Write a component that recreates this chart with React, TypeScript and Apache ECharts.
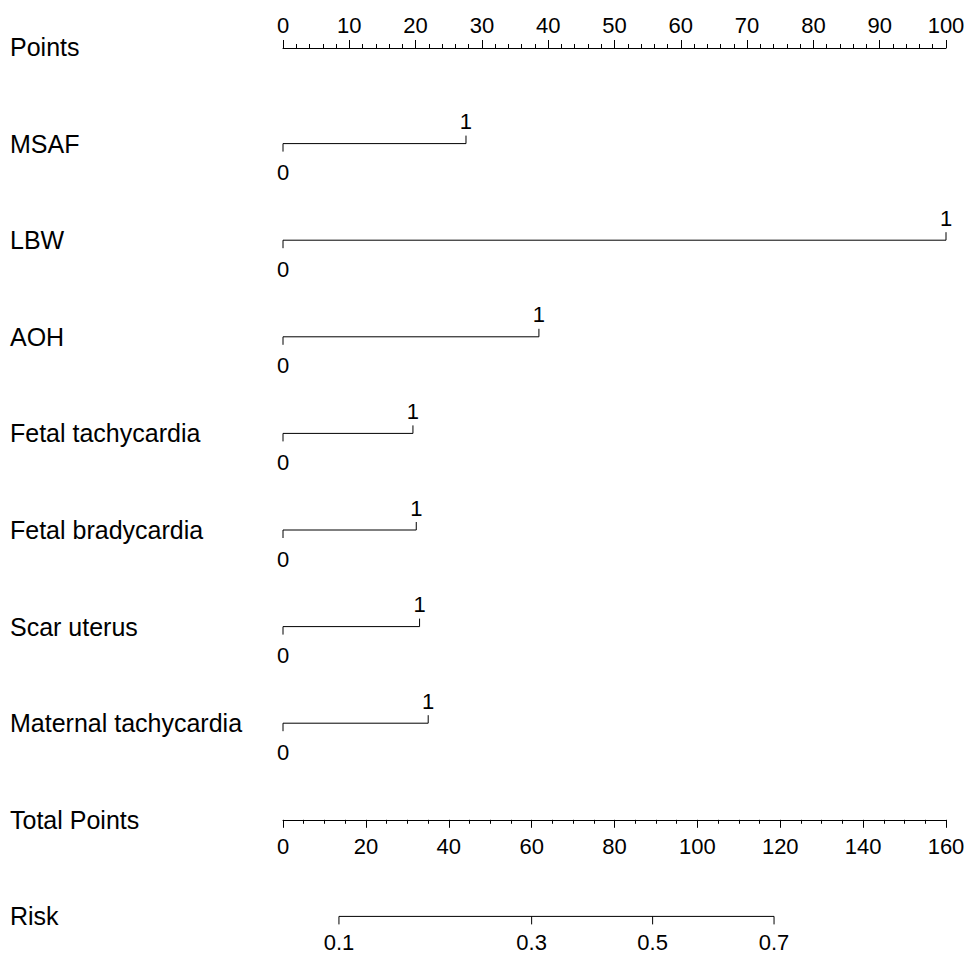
import React, { useEffect, useRef } from "react";
import * as echarts from "echarts";

// ---- data ----
const VARIABLES = [
  "MSAF",
  "LBW",
  "AOH",
  "Fetal tachycardia",
  "Fetal bradycardia",
  "Scar uterus",
  "Maternal tachycardia",
];
const POINTS_AT_LEVEL1 = [27.6, 100, 38.6, 19.6, 20.1, 20.6, 21.9];
const LEVEL_LABELS = ["0", "1"];

const POINTS_MAX = 100;
const POINTS_INTERVAL = 10;
const TOTAL_MAX = 160;
const TOTAL_INTERVAL = 20;

const RISK_LABELS = ["0.1", "0.3", "0.5", "0.7"];
const RISK_AT_TOTAL = [13.5, 60.0, 89.2, 118.5];

const ROW_NAMES = ["Points", ...VARIABLES, "Total Points", "Risk"];

// ---- layout ----
const W = 973;
const H = 956;
const LEFT = 283;
const RIGHT = 27;
const ROW_TOP = 47;
const ROW_GAP = 96.6;
const FONT = "'Liberation Sans', Arial, sans-serif";
const NAME_SIZE = 25;
const TICK_SIZE = 22;
const INK = "#000";

const rowY = (i: number) => ROW_TOP + ROW_GAP * i;

export default function App() {
  const ref = useRef<HTMLDivElement>(null);

  useEffect(() => {
    if (!ref.current) return;
    const chart = echarts.init(ref.current, null, { renderer: "svg" });

    const lastRow = ROW_NAMES.length - 1;
    const totalRow = ROW_NAMES.length - 2;

    const axisCommon = {
      type: "value" as const,
      axisLine: { show: true, lineStyle: { color: INK, width: 1 } },
      axisTick: { show: true, length: 8, lineStyle: { color: INK, width: 1 } },
      splitLine: { show: false },
      minorSplitLine: { show: false },
      axisLabel: {
        color: INK,
        fontSize: TICK_SIZE,
        fontFamily: FONT,
        showMinLabel: true,
        showMaxLabel: true,
      },
    };

    const variableData = VARIABLES.map((_, i) => [i + 1, POINTS_AT_LEVEL1[i]]);
    const riskData = RISK_AT_TOTAL.map((v, i) => [v, lastRow, i]);

    const option: any = {
      animation: false,
      backgroundColor: "#fff",
      grid: [
        { left: LEFT, right: RIGHT, top: rowY(0), height: 1 },
        { left: LEFT, right: RIGHT, top: rowY(0), height: ROW_GAP * lastRow },
        { left: LEFT, right: RIGHT, top: rowY(totalRow) - 1, height: 1 },
      ],
      xAxis: [
        {
          ...axisCommon,
          gridIndex: 0,
          position: "top",
          min: 0,
          max: POINTS_MAX,
          interval: POINTS_INTERVAL,
          minorTick: { show: true, splitNumber: 5, length: 4, lineStyle: { color: INK } },
          axisLabel: { ...axisCommon.axisLabel, margin: 11 },
        },
        { type: "value", gridIndex: 1, min: 0, max: POINTS_MAX, show: false },
        { type: "value", gridIndex: 1, min: 0, max: TOTAL_MAX, show: false },
        {
          ...axisCommon,
          gridIndex: 2,
          position: "bottom",
          min: 0,
          max: TOTAL_MAX,
          interval: TOTAL_INTERVAL,
          minorTick: { show: true, splitNumber: 4, length: 4, lineStyle: { color: INK } },
          axisLabel: { ...axisCommon.axisLabel, margin: 16 },
        },
      ],
      yAxis: [
        { type: "value", gridIndex: 0, show: false, min: 0, max: 1 },
        { type: "value", gridIndex: 1, show: false, min: 0, max: lastRow, inverse: true },
        { type: "value", gridIndex: 2, show: false, min: 0, max: 1 },
      ],
      graphic: ROW_NAMES.map((name, i) => ({
        type: "text",
        x: 10,
        y: rowY(i),
        style: {
          text: name,
          fontSize: NAME_SIZE,
          fontFamily: FONT,
          fill: INK,
          verticalAlign: "middle",
          align: "left",
        },
      })),
      series: [
        {
          type: "custom",
          xAxisIndex: 1,
          yAxisIndex: 1,
          data: variableData,
          silent: true,
          renderItem: (params: any, api: any) => {
            const row = api.value(0);
            const v = api.value(1);
            const p0 = api.coord([0, row]);
            const p1 = api.coord([v, row]);
            const ls = { stroke: INK, lineWidth: 1 };
            return {
              type: "group",
              children: [
                { type: "line", shape: { x1: p0[0], y1: p0[1], x2: p1[0], y2: p1[1] }, style: ls },
                { type: "line", shape: { x1: p0[0], y1: p0[1], x2: p0[0], y2: p0[1] + 8 }, style: ls },
                { type: "line", shape: { x1: p1[0], y1: p1[1], x2: p1[0], y2: p1[1] - 8 }, style: ls },
                {
                  type: "text",
                  x: p0[0],
                  y: p0[1] + 29,
                  style: {
                    text: LEVEL_LABELS[0],
                    fontSize: TICK_SIZE,
                    fontFamily: FONT,
                    fill: INK,
                    align: "center",
                    verticalAlign: "middle",
                  },
                },
                {
                  type: "text",
                  x: p1[0],
                  y: p1[1] - 22,
                  style: {
                    text: LEVEL_LABELS[1],
                    fontSize: TICK_SIZE,
                    fontFamily: FONT,
                    fill: INK,
                    align: "center",
                    verticalAlign: "middle",
                  },
                },
              ],
            };
          },
        },
        {
          type: "line",
          xAxisIndex: 2,
          yAxisIndex: 1,
          data: [
            [RISK_AT_TOTAL[0], lastRow],
            [RISK_AT_TOTAL[RISK_AT_TOTAL.length - 1], lastRow],
          ],
          symbol: "none",
          silent: true,
          lineStyle: { color: INK, width: 1 },
        },
        {
          type: "custom",
          xAxisIndex: 2,
          yAxisIndex: 1,
          data: riskData,
          silent: true,
          renderItem: (params: any, api: any) => {
            const p = api.coord([api.value(0), api.value(1)]);
            const idx = api.value(2);
            return {
              type: "group",
              children: [
                {
                  type: "line",
                  shape: { x1: p[0], y1: p[1], x2: p[0], y2: p[1] + 8 },
                  style: { stroke: INK, lineWidth: 1 },
                },
                {
                  type: "text",
                  x: p[0],
                  y: p[1] + 26,
                  style: {
                    text: RISK_LABELS[idx],
                    fontSize: TICK_SIZE,
                    fontFamily: FONT,
                    fill: INK,
                    align: "center",
                    verticalAlign: "middle",
                  },
                },
              ],
            };
          },
        },
      ],
    };

    chart.setOption(option);
    return () => chart.dispose();
  }, []);

  return (
    <div
      ref={ref}
      style={{ position: "absolute", left: 0, top: 0, width: W, height: H, background: "#fff" }}
    />
  );
}
